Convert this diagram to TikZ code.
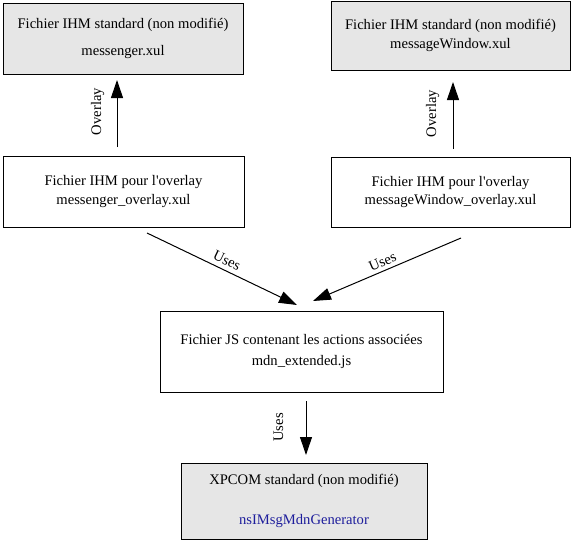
\documentclass[tikz,border=0pt]{standalone}
\usepackage{fontspec}
\setmainfont{Liberation Serif}[Ligatures=TeXOff]
\usetikzlibrary{arrows.meta}
\definecolor{boxgray}{HTML}{E6E6E6}
\definecolor{ifblue}{HTML}{1E1E9C}
\tikzset{
  box/.style={draw=black, line width=1pt, rectangle, inner sep=0pt, align=center,
    font=\fontsize{14.6}{17}\selectfont},
  stdbox/.style={box, fill=boxgray},
  conn/.style={line width=1pt, -{Triangle[length=18pt,width=12pt]}},
  lbl/.style={anchor=base, inner sep=0pt, font=\fontsize{14.6}{17}\selectfont}
}
\begin{document}
\begin{tikzpicture}[x=1pt,y=-1pt]
\useasboundingbox[fill=white] (0,0) rectangle (574,541);
% boxes
\node[stdbox, minimum width=240pt, minimum height=71pt] (b1) at (123,38.5)
  {Fichier IHM standard (non modifié)\\[9.5pt]messenger.xul};
\node[stdbox, minimum width=239pt, minimum height=69pt] (b2) at (450.5,35.5)
  {Fichier IHM standard (non modifié)\\[1.5pt]messageWindow.xul};
\node[box, minimum width=241pt, minimum height=71pt] (b3) at (123.5,191.5)
  {Fichier IHM pour l'overlay\\[1.3pt]messenger\_overlay.xul};
\node[box, minimum width=239pt, minimum height=70pt] (b4) at (450.5,192)
  {Fichier IHM pour l'overlay\\[1.3pt]messageWindow\_overlay.xul};
\node[box, minimum width=283pt, minimum height=81pt] (b5) at (301.5,351.5)
  {Fichier JS contenant les actions associées\\[3.7pt]mdn\_extended.js};
\node[stdbox, minimum width=246pt, minimum height=76pt] (b6) at (304,501)
  {XPCOM standard (non modifié)\\[22.3pt]\textcolor{ifblue}{nsIMsgMdnGenerator}};
% connector end points
\coordinate (o1s) at (117,147);
\coordinate (o1e) at (117,80);
\coordinate (o2s) at (453,149);
\coordinate (o2e) at (453,82);
\coordinate (u1s) at (147,233);
\coordinate (u1e) at (297,305);
\coordinate (u2s) at (461,238);
\coordinate (u2e) at (313,301);
\coordinate (u3s) at (306,401);
\coordinate (u3e) at (306,455);
% connectors
\draw[conn] (o1s) -- (o1e);
\draw[conn] (o2s) -- (o2e);
\draw[conn] (u1s) -- (u1e);
\draw[conn] (u2s) -- (u2e);
\draw[conn] (u3s) -- (u3e);
% labels
\node[lbl, rotate=90] (l1) at (101,111.5) {Overlay};
\node[lbl, rotate=90] (l2) at (436,113.5) {Overlay};
\node[lbl, rotate=-25.6] (l3) at (225,265) {Uses};
\node[lbl, rotate=23.1] (l4) at (384.4,265.9) {Uses};
\node[lbl, rotate=90] (l5) at (283,427.5) {Uses};
\end{tikzpicture}
\end{document}
